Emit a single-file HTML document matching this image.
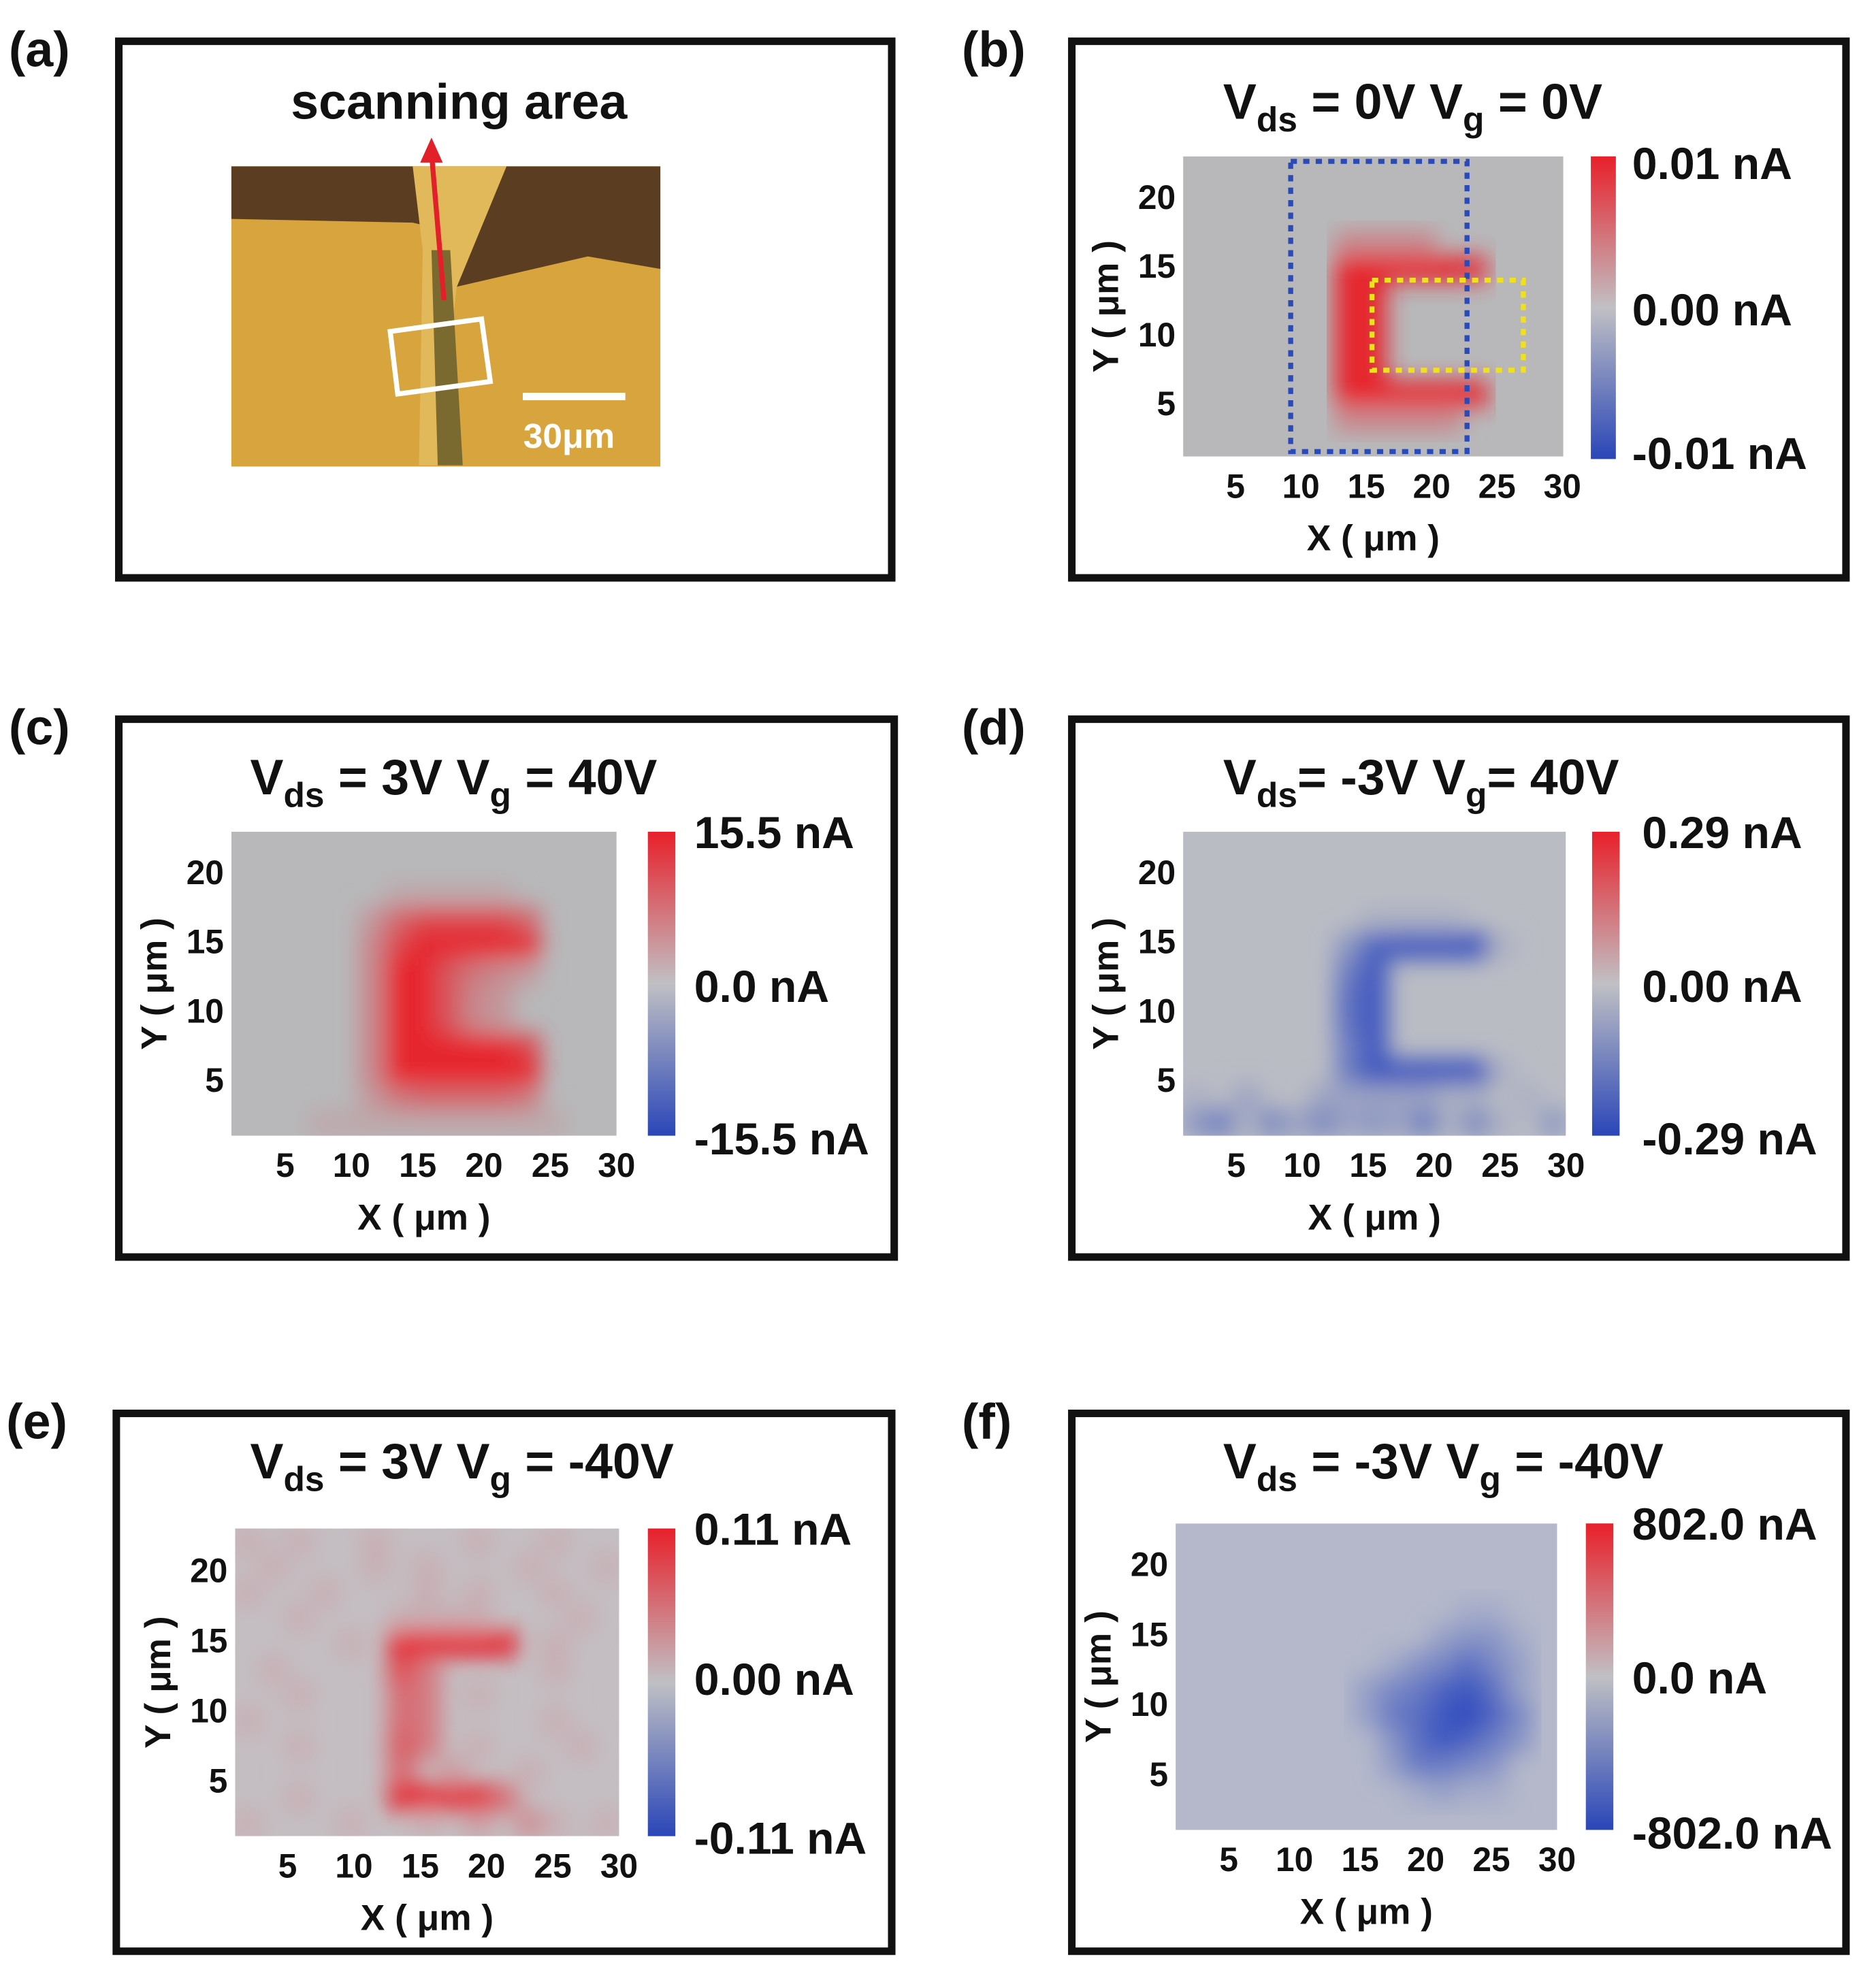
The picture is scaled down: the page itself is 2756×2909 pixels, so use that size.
<!DOCTYPE html>
<html><head><meta charset="utf-8">
<style>
html,body{margin:0;padding:0;background:#fff;}
svg{display:block;}
text{font-family:"Liberation Sans",Arial,sans-serif;font-weight:bold;fill:#111;}
</style></head>
<body>
<svg id="fig" width="2756" height="2909" viewBox="0 0 1500 1583" preserveAspectRatio="none" xmlns="http://www.w3.org/2000/svg">
<defs>
<filter id="blur" x="-5%" y="-5%" width="110%" height="110%"><feGaussianBlur stdDeviation="9"/></filter>
<linearGradient id="cbar" x1="0" y1="0" x2="0" y2="1">
<stop offset="0" stop-color="#e8202a"/><stop offset="0.5" stop-color="#c0c0c4"/><stop offset="1" stop-color="#2a46b8"/>
</linearGradient>
</defs>
<g id="root"></g>
</svg>
<script>
// ---- data ----
const xTicks = [5,10,15,20,25,30];
const yTicks = [20,15,10,5];
const gridB = [
"...............",
"...............",
"...............",
"......3333.....",
"......999998...",
"......99.......",
"......99.......",
"......99.......",
"......99.......",
"......999999...",
"......33333....",
"..............."];
const gridC = [
"...............",
"...............",
"......11111....",
".....2577775...",
".....3799999...",
".....3996432...",
".....399632....",
".....399632....",
".....3999997...",
".....3999999...",
".....2455554...",
"...1111111111.."];
const gridD = [
"...............",
"...............",
"...............",
".......1111....",
"......3788881..",
"......58.......",
"......68.......",
"......68.......",
"......58.......",
"......5888881..",
"1.2..2222211.1.",
"3514242325141.3"];
const gridE = [
"1.1..1...1..1..",
".1...1.1...1..1",
"1..1...1.1..1..",
"..1...1111...1.",
"....1.99999.1..",
".1....74....1..",
"..1...54.1.....",
"1.....54....1..",
"..1...64.1...1.",
"......5.2..1...",
"..1...99895....",
"1...1..1.2.31.1"];
const gridF = [
"...............",
"...............",
"...............",
"...........11..",
"..........2331.",
"........134642.",
".......2457862.",
".......2568974.",
"........368753.",
"........25543..",
".........1211..",
"..............."];
const panels = [
 {id:"b",grid:gridB,sign:1,bg:[184,184,186],hm:[946,125,1250,365],x0:935.7,xs:10.45,y0:377,ys:11,cb:[1272,125,1292,367],cl:["0.01 nA","0.00 nA","-0.01 nA"],clx:1305,cly:[131,248,363],title:["V","ds"," = 0V V","g"," = 0V"],tx:978,ty:95},
 {id:"c",grid:gridC,sign:1,bg:[184,184,186],hm:[185,665,493,908],x0:175,xs:10.6,y0:918,ys:11.05,cb:[518,665,540,908],cl:["15.5 nA","0.0 nA","-15.5 nA"],clx:555,cly:[666,789,911],title:["V","ds"," = 3V V","g"," =  40V"],tx:200,ty:635},
 {id:"d",grid:gridD,sign:-1,bg:[186,188,196],hm:[946,665,1252,908],x0:935.7,xs:10.55,y0:918,ys:11.05,cb:[1273,665,1295,908],cl:["0.29 nA","0.00 nA","-0.29 nA"],clx:1313,cly:[666,789,911],title:["V","ds","= -3V V","g","=  40V"],tx:978,ty:635},
 {id:"e",grid:gridE,sign:1,bg:[196,190,194],hm:[188,1222,495,1468],x0:177,xs:10.6,y0:1479,ys:11.2,cb:[518,1222,540,1468],cl:["0.11 nA","0.00 nA","-0.11 nA"],clx:555,cly:[1223,1343,1470],title:["V","ds"," = 3V V","g"," = -40V"],tx:200,ty:1182},
 {id:"f",grid:gridF,sign:-1,bg:[180,184,202],hm:[940,1218,1245,1463],x0:930,xs:10.5,y0:1474,ys:11.2,cb:[1268,1218,1290,1463],cl:["802.0 nA","0.0 nA","-802.0 nA"],clx:1305,cly:[1219,1342,1466],title:["V","ds"," = -3V V","g"," = -40V"],tx:978,ty:1182}
];
const frames = [
 ["a",95,33,713,462],["b",857,33,1476,462],["c",95,575,715,1005],
 ["d",857,575,1476,1005],["e",93,1130,713,1560],["f",857,1130,1476,1560]];

// ---- drawing ----
const NS="http://www.w3.org/2000/svg";
const root=document.getElementById('root');
function el(tag,attrs,parent){const e=document.createElementNS(NS,tag);for(const k in attrs)e.setAttribute(k,attrs[k]);(parent||root).appendChild(e);return e;}
function txt(x,y,s,size,anchor,parent){const t=el('text',{x:x,y:y,'font-size':size,'text-anchor':anchor||'start'},parent);t.textContent=s;return t;}
function color(v,sign,bg){const red=[232,30,40],blue=[40,70,190];const tgt=sign>0?red:blue;
 return 'rgb('+bg.map((b,i)=>Math.round(b+(tgt[i]-b)*v)).join(',')+')';}

frames.forEach(f=>{
 const r=el('rect',{x:f[1],y:f[2],width:f[3]-f[1],height:f[4]-f[2],fill:'none',stroke:'#111','stroke-width':6});
 
 
 const l=txt(f[1]-88,f[2]+20,'('+f[0]+')',40);
 
 
});

// panel a
(function(){
 const g=el('g',{});
 
 
 el('rect',{x:185,y:133,width:343,height:240,fill:'#d8a43e'},g);
 el('polygon',{points:'185,133 528,133 528,215 470,205 362,230 360,185 330,178 185,175',fill:'#5b3e22'},g);
 el('polygon',{points:'330,133 405,133 365,230 350,372 335,372 338,200',fill:'#e2b95a'},g);
 el('polygon',{points:'345,200 360,200 370,372 350,372',fill:'#7a6a30'},g);
 el('polygon',{points:'312,265 385,255 392,305 318,315',fill:'none',stroke:'#fff','stroke-width':4},g);
 el('line',{x1:355,y1:240,x2:345,y2:122,stroke:'#e2202a','stroke-width':4},g);
 el('polygon',{points:'345,110 336,130 354,130',fill:'#e2202a'},g);
 el('rect',{x:418,y:314,width:82,height:6,fill:'#fff'},g);
 const s=txt(455,358,'30μm',28,'middle',g); s.setAttribute('fill','#fff'); s.style.fill='#fff';
 const t=txt(367,95,'scanning area',40,'middle');
 
 
})();

panels.forEach(p=>{
 const g=el('g',{});
 
 
 const [x1,y1,x2,y2]=p.hm;
 const cp=el('clipPath',{id:'clip'+p.id},g);
 el('rect',{x:x1,y:y1,width:x2-x1,height:y2-y1},cp);
 const hg=el('g',{'clip-path':'url(#clip'+p.id+')'},g);
 el('rect',{x:x1,y:y1,width:x2-x1,height:y2-y1,fill:'rgb('+p.bg.join(',')+')'},hg);
 const cells=el('g',{filter:'url(#blur)'},hg);
 const rows=p.grid.length,cols=p.grid[0].length;
 const cw=(x2-x1)/cols,ch=(y2-y1)/rows;
 p.grid.forEach((row,ri)=>{[...row].forEach((c,ci)=>{
   const v=c==='.'?0:(+c)/9;
   if(v===0)return;
   const r=el('rect',{x:x1+ci*cw-0.5,y:y1+ri*ch-0.5,width:cw+1,height:ch+1,fill:color(v*0.95,p.sign,p.bg)},cells);
   
   
 });});
 if(p.id==='b'){
  el('rect',{x:1032,y:129,width:141,height:232,fill:'none',stroke:'#2a4ab8','stroke-width':4,'stroke-dasharray':'5,5'},g);
  el('rect',{x:1097,y:224,width:121,height:72,fill:'none',stroke:'#f0e020','stroke-width':4,'stroke-dasharray':'5,5'},g);
 }
 xTicks.forEach(v=>txt(p.x0+v*p.xs,y2+33,String(v),27,'middle',g));
 yTicks.forEach(v=>txt(x1-6,p.y0-v*p.ys+10,String(v),27,'end',g));
 txt((x1+x2)/2,y2+75,'X ( μm )',29,'middle',g);
 const yl=txt(0,0,'Y ( μm )',29,'middle',g);
 yl.setAttribute('transform','translate('+(x1-52)+','+((y1+y2)/2)+') rotate(-90)');
 const cb=el('rect',{x:p.cb[0],y:p.cb[1],width:p.cb[2]-p.cb[0],height:p.cb[3]-p.cb[1],fill:'url(#cbar)'},g);
 
 
 p.cl.forEach((s,i)=>txt(p.clx,p.cly[i]+12,s,36,'start',g));
 const t=el('text',{x:p.tx,y:p.ty,'font-size':40},g);
 
 
 p.title.forEach((s,i)=>{const ts=el('tspan',{},t);ts.textContent=s;
   if(i%2===1){ts.setAttribute('font-size','28');ts.setAttribute('dy','10');}
   else if(i>0){ts.setAttribute('dy','-10');}
 });
});
</script>
</body></html>
